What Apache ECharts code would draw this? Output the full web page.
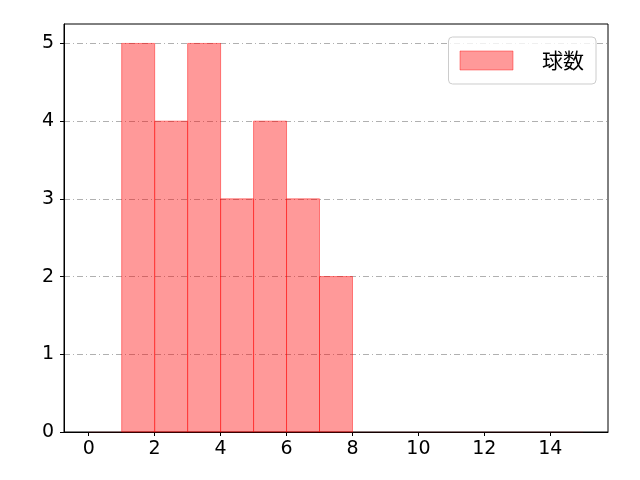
<!DOCTYPE html>
<html><head><meta charset="utf-8">
<script src="https://cdn.jsdelivr.net/npm/echarts@6/dist/echarts.min.js"></script>
<style>html,body{margin:0;padding:0;background:#fff}#c{width:640px;height:480px}</style>
</head><body><div id="c"></div>
<script>
const binEdges = [0,1,2,3,4,5,6,7,8,9,10,11,12,13,14,15];
const counts = [0,5,4,5,3,4,3,2,0,0,0,0,0,0,0];
const xTicks = [0,2,4,6,8,10,12,14];
const yTicks = [0,1,2,3,4,5];
const seriesName = '球数';

const data = counts.map((c,i)=>[binEdges[i], binEdges[i+1], c]);
const NUMFONT = '"DejaVu Sans", sans-serif';
const JPFONT = '"Noto Sans CJK JP", sans-serif';
const chart = echarts.init(document.getElementById('c'), null, {renderer:'canvas'});
chart.setOption({
  animation:false,
  grid:{left:64,right:32,top:24,bottom:48,containLabel:false,show:true,borderColor:'#000',borderWidth:1,backgroundColor:'transparent'},
  xAxis:{type:'value',min:-0.75,max:15.75,
    axisLine:{show:true,onZero:false,lineStyle:{color:'#000',width:1}},
    axisTick:{show:true,customValues:xTicks,length:4,inside:false,lineStyle:{color:'#000'}},
    axisLabel:{customValues:xTicks,color:'#000',fontSize:19,fontFamily:NUMFONT,margin:8},
    splitLine:{show:false}},
  yAxis:{type:'value',min:0,max:5.25,
    axisLine:{show:true,onZero:false,lineStyle:{color:'#000',width:1}},
    axisTick:{show:true,customValues:yTicks,length:4,lineStyle:{color:'#000'}},
    axisLabel:{customValues:yTicks,color:'#000',fontSize:19,fontFamily:NUMFONT,margin:10},
    splitLine:{show:true,customValues:yTicks,lineStyle:{color:'#b0b0b0',width:1,type:[6,3,1,3]}}},
  legend:{show:true,right:44,top:37,itemWidth:53,itemHeight:19,itemGap:10,
    padding:[13,12,13,11],
    backgroundColor:'rgba(255,255,255,0.8)',borderColor:'#cccccc',borderWidth:1,borderRadius:4,
    textStyle:{fontSize:21,fontFamily:JPFONT,color:'#000',padding:[0,0,0,24]},
    data:[{name:seriesName,icon:'rect',itemStyle:{color:'rgba(255,0,0,0.4)',borderColor:'rgba(255,0,0,0.4)',borderWidth:1}}]},
  series:[{
    type:'custom',name:seriesName,
    itemStyle:{color:'rgba(255,0,0,0.4)'},
    renderItem:function(params,api){
      const v = api.value(2);
      const p0 = api.coord([api.value(0), v]);
      const p1 = api.coord([api.value(1), 0]);
      return {type:'rect',shape:{x:p0[0],y:p0[1],width:p1[0]-p0[0],height:p1[1]-p0[1]},
        style:{fill:'rgba(255,0,0,0.4)',stroke:v>0?'rgba(255,0,0,0.45)':'rgba(255,0,0,0.08)',lineWidth:1}};
    },
    encode:{x:[0,1],y:2},
    data:data
  }]
});
</script></body></html>
